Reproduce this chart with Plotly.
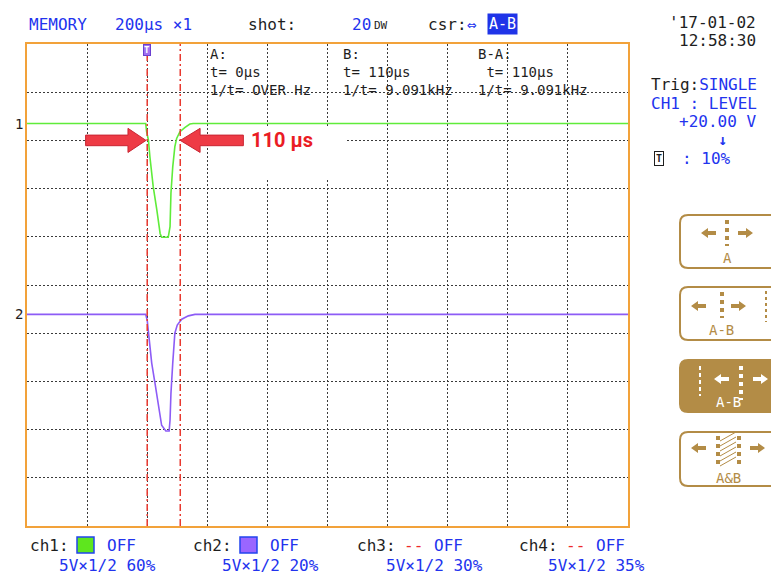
import plotly.graph_objects as go

# scope settings (200 us/div, 10 x 10 divisions)
TIME_PER_DIV = 200
X_DIVS = 10
Y_DIVS = 10

# cursor positions in us
CURSOR_A = 400
CURSOR_B = 510

# ch1 (green) waveform: time in us, level in divisions
ch1_t = [0, 395, 398, 404, 409, 420, 432, 443, 448, 470, 476, 479, 485, 492, 498, 509, 526, 542, 553, 2000]
ch1_v = [8.35, 8.35, 8.18, 8.01, 7.66, 7.04, 6.56, 6.07, 5.99, 5.99, 6.21, 6.90, 7.45, 7.87, 8.04, 8.18, 8.27, 8.34, 8.35, 8.35]

# ch2 (purple) waveform
ch2_t = [0, 395, 400, 404, 409, 415, 426, 437, 448, 462, 473, 476, 479, 485, 492, 500, 515, 537, 559, 2000]
ch2_v = [4.39, 4.39, 4.27, 4.00, 3.72, 3.38, 2.96, 2.47, 2.09, 1.97, 1.97, 2.20, 2.75, 3.38, 4.00, 4.17, 4.29, 4.36, 4.39, 4.39]

channels = ['ch1:', 'ch2:', 'ch3:', 'ch4:']
ch_colors = ['#5ee61e', '#9a66ff', None, None]
ch_scales = ['5V×1/2 60%', '5V×1/2 20%', '5V×1/2 30%', '5V×1/2 35%']

MONO = 'DejaVu Sans Mono'
BLUE = '#2233ee'
BLACK = '#1e1e1e'
GOLD = '#b38c46'
RED = '#ee3b45'

W, H = 771, 576
L, R, T, B = 27, 143, 44, 50
PW = W - L - R
PH = H - T - B


def px(x):
    return (x - L) / PW


def py(y):
    return (H - B - y) / PH


ann = []
shapes = []


def label(x, y, s, color=BLACK, size=16, xanchor='left', family=MONO, **kw):
    ann.append(dict(x=px(x), y=py(y), xref='paper', yref='paper', text=s, showarrow=False,
                    xanchor=xanchor, yanchor='middle',
                    font=dict(family=family, size=size, color=color), **kw))


def rrect(x0, y0, x1, y1, r=8, fill='white'):
    X0, X1, Y0, Y1 = px(x0), px(x1), py(y0), py(y1)
    rx, ry = r / PW, r / PH
    path = (f"M {X0+rx},{Y0} L {X1-rx},{Y0} Q {X1},{Y0} {X1},{Y0-ry} L {X1},{Y1+ry} "
            f"Q {X1},{Y1} {X1-rx},{Y1} L {X0+rx},{Y1} Q {X0},{Y1} {X0},{Y1+ry} "
            f"L {X0},{Y0-ry} Q {X0},{Y0} {X0+rx},{Y0} Z")
    shapes.append(dict(type='path', xref='paper', yref='paper', path=path,
                       line=dict(color=GOLD, width=2), fillcolor=fill))


def vline_px(x, y0, y1, color=GOLD, width=4, dash='dot'):
    shapes.append(dict(type='line', xref='paper', yref='paper', x0=px(x), x1=px(x),
                       y0=py(y0), y1=py(y1), line=dict(color=color, width=width, dash=dash)))


def small_arrow(tip, yc, direction, color=GOLD, length=15, head=7, shaft=2, half=5):
    # little filled arrow on the cursor buttons, pixel coordinates
    tail = tip - direction * length
    base = tip - direction * head
    pts = [(tail, yc - shaft), (base, yc - shaft), (base, yc - half), (tip, yc),
           (base, yc + half), (base, yc + shaft), (tail, yc + shaft)]
    path = 'M ' + ' L '.join(f'{px(a)},{py(b)}' for a, b in pts) + ' Z'
    shapes.append(dict(type='path', xref='paper', yref='paper', path=path,
                       fillcolor=color, line=dict(width=0)))


def arrow_path(tip, tail, yc, head_len, shaft_h=0.11, head_h=0.25):
    d = 1 if tail < tip else -1
    base = tip - d * head_len
    return (f"M {tail},{yc-shaft_h} L {base},{yc-shaft_h} L {base},{yc-head_h} L {tip},{yc} "
            f"L {base},{yc+head_h} L {base},{yc+shaft_h} L {tail},{yc+shaft_h} Z")


fig = go.Figure()
fig.add_trace(go.Scatter(x=ch1_t, y=ch1_v, mode='lines', line=dict(color='#5fec3a', width=1.6),
                         hoverinfo='skip'))
fig.add_trace(go.Scatter(x=ch2_t, y=ch2_v, mode='lines', line=dict(color='#8d5cf6', width=1.6),
                         hoverinfo='skip'))

# cursors
for c in (CURSOR_A, CURSOR_B):
    shapes.append(dict(type='line', xref='x', yref='paper', x0=c, x1=c, y0=0, y1=1,
                       line=dict(color='#e8392f', width=1.5, dash='7px,3px,2px,3px')))

# white box behind the measurement label
shapes.append(dict(type='rect', xref='paper', yref='paper', x0=px(243), x1=px(347),
                   y0=py(180), y1=py(127), fillcolor='white', line=dict(width=0), layer='above'))

# red arrows pointing at the cursors
ARROW_Y = 8.0
shapes.append(dict(type='path', xref='x', yref='y', layer='above',
                   path=arrow_path(CURSOR_A - 4, CURSOR_A - 205, ARROW_Y, 60),
                   fillcolor=RED, line=dict(color='#c92632', width=1)))
shapes.append(dict(type='path', xref='x', yref='y', layer='above',
                   path=arrow_path(CURSOR_B, CURSOR_B + 210, ARROW_Y, 66),
                   fillcolor=RED, line=dict(color='#c92632', width=1)))

dt = CURSOR_B - CURSOR_A
ann.append(dict(x=CURSOR_B + 230, y=ARROW_Y, xref='x', yref='y', text=f'<b>{dt} µs</b>',
                showarrow=False, xanchor='left', yanchor='middle',
                font=dict(family='Roboto, sans-serif', size=20, color='#ea1c24')))

# trigger marker on cursor A
ann.append(dict(x=CURSOR_A, y=1, xref='x', yref='paper', text='<b>T</b>', showarrow=False,
                yanchor='top', font=dict(family=MONO, size=9, color='white'),
                bgcolor='#a070f0', bordercolor='#6a3fd0', borderwidth=1, borderpad=0))

# channel level markers
for name, lvl in (('1', ch1_v[0]), ('2', ch2_v[0])):
    ann.append(dict(x=px(13), y=lvl, xref='paper', yref='y', text=name, showarrow=False,
                    font=dict(family=MONO, size=14, color=BLACK)))


# cursor readout
def fmt_freq(t_us):
    if t_us == 0:
        return 'OVER Hz'
    return f'{1e6 / t_us / 1000:.3f}kHz'


readouts = [(209, 'A:', f't= {CURSOR_A - CURSOR_A}µs', '1/t= ' + fmt_freq(0)),
            (342, 'B:', f't= {dt}µs', '1/t= ' + fmt_freq(dt)),
            (477, 'B-A:', f' t= {dt}µs', '1/t= ' + fmt_freq(dt))]
for x, a, b, c in readouts:
    label(x, 72, '<br>'.join([a, b, c]), size=14, align='left', borderpad=0)

# header
label(27, 25, 'MEMORY', BLUE)
label(113, 25, '200µs ×1', BLUE)
label(246, 25, 'shot:')
label(350, 25, '20', BLUE)
label(372, 26, 'DW', size=11)
label(426, 25, 'csr:')
label(465, 25, '⇔', BLUE)
label(487, 24, 'A-B', 'white', size=15, bgcolor='#1f34e8', borderpad=1)

# right panel
label(758, 23, "'17-01-02", xanchor='right')
label(758, 40, '12:58:30', xanchor='right')
label(649, 84, 'Trig:<span style="color:#2233ee">SINGLE</span>')
label(649, 103, 'CH1 : LEVEL', BLUE)
label(758, 122, '+20.00 V', BLUE, xanchor='right')
label(722, 140, '<b>↓</b>', BLUE, size=15, xanchor='center')
label(659, 158, '<b>T</b>', size=10, xanchor='center', bordercolor=BLACK, borderwidth=1, borderpad=1)
label(680, 158, ': 10%', BLUE)

# cursor mode buttons
rrect(680, 215, 778, 268)
vline_px(727, 220, 246)
small_arrow(701, 233, -1)
small_arrow(753, 233, 1)
label(727, 258, 'A', GOLD, size=14, xanchor='center')

rrect(680, 287, 778, 340)
vline_px(722, 292, 318)
vline_px(766, 291, 322, width=2)
small_arrow(691, 306, -1)
small_arrow(746, 306, 1)
label(721, 330, 'A-B', GOLD, size=14, xanchor='center')

rrect(680, 360, 778, 412, fill=GOLD)
vline_px(700, 366, 396, color='white', width=2, dash='4px,3px')
vline_px(741, 366, 400, color='white')
small_arrow(714, 379, -1, color='white')
small_arrow(768, 379, 1, color='white')
label(728, 402, 'A-B', 'white', size=14, xanchor='center')

rrect(680, 432, 778, 486)
vline_px(718, 436, 468)
vline_px(739, 436, 468)
for k in range(6):
    shapes.append(dict(type='line', xref='paper', yref='paper', x0=px(720), x1=px(736),
                       y0=py(466 - 5 * k), y1=py(457 - 5 * k), line=dict(color=GOLD, width=1)))
small_arrow(691, 448, -1)
small_arrow(765, 448, 1)
label(728, 478, 'A&B', GOLD, size=14, xanchor='center')

# channel status line
ch_x = [28, 191, 355, 517]
for i, x in enumerate(ch_x):
    label(x, 545, channels[i])
    if ch_colors[i]:
        shapes.append(dict(type='rect', xref='paper', yref='paper', x0=px(x + 49), x1=px(x + 66),
                           y0=py(553), y1=py(537), fillcolor=ch_colors[i],
                           line=dict(color='#2244ee', width=1.5)))
    else:
        label(x + 47, 545, '--', '#ee2a2a')
    label(x + 77, 545, 'OFF', BLUE)
    label(x + 29, 565, ch_scales[i], BLUE)

grid = dict(showgrid=True, gridcolor='#3a3a3a', griddash='2px,2px', gridwidth=1.3,
            zeroline=False, showticklabels=False, ticks='', showline=True, mirror=True,
            linecolor='#f2a23a', linewidth=2, fixedrange=True)

fig.update_layout(
    width=W, height=H,
    margin=dict(l=L, r=R, t=T, b=B),
    paper_bgcolor='white', plot_bgcolor='white',
    showlegend=False,
    xaxis=dict(range=[0, TIME_PER_DIV * X_DIVS], dtick=TIME_PER_DIV, **grid),
    yaxis=dict(range=[0, Y_DIVS], dtick=1, **grid),
    shapes=shapes,
    annotations=ann,
)

# drop the default page margin so the figure sits at the window origin
fig.write_html("out.html", config={'displayModeBar': False},
               post_script="document.body.style.margin='0';")
